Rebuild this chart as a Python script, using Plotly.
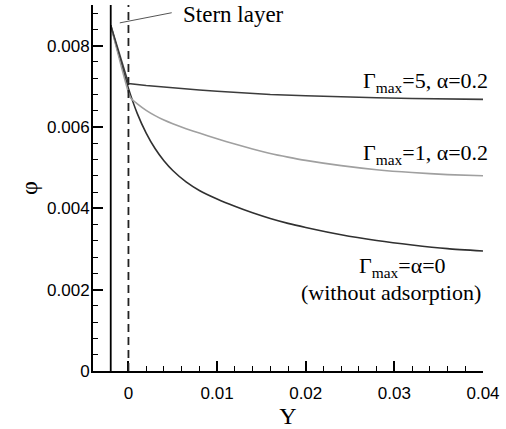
import plotly.graph_objects as go

# ---- data ----
Y_gamma5 = [-0.002, 0.0, 0.002, 0.004, 0.006, 0.008, 0.010, 0.013, 0.016, 0.020, 0.024, 0.028, 0.032, 0.036, 0.040]
phi_gamma5 = [0.0085, 0.00707, 0.00702, 0.00698, 0.00694, 0.00691, 0.00688, 0.00684, 0.00680, 0.00677, 0.00674, 0.00672, 0.00670, 0.00669, 0.00668]

Y_gamma1 = [-0.002, 0.0, 0.0003, 0.001, 0.002, 0.003, 0.004, 0.005, 0.0065, 0.008, 0.010, 0.012, 0.014, 0.016, 0.018, 0.020, 0.024, 0.028, 0.032, 0.036, 0.040]
phi_gamma1 = [0.0085, 0.00685, 0.00670, 0.00657, 0.00641, 0.00628, 0.00617, 0.00608, 0.00596, 0.00585, 0.00571, 0.00558, 0.00546, 0.00535, 0.00526, 0.00518, 0.00505, 0.00495, 0.00488, 0.00483, 0.00480]

Y_gamma0 = [-0.002, 0.0, 0.001, 0.002, 0.003, 0.004, 0.005, 0.0065, 0.008, 0.010, 0.012, 0.014, 0.016, 0.018, 0.020, 0.024, 0.028, 0.032, 0.036, 0.040]
phi_gamma0 = [0.0085, 0.00695, 0.00633, 0.00585, 0.00547, 0.00517, 0.00493, 0.00465, 0.00444, 0.00423, 0.00405, 0.00389, 0.00375, 0.00363, 0.00353, 0.00335, 0.00321, 0.00310, 0.00301, 0.00295]

x_tickvals = [0, 0.01, 0.02, 0.03, 0.04]
x_ticktext = ["0", "0.01", "0.02", "0.03", "0.04"]
y_tickvals = [0, 0.002, 0.004, 0.006, 0.008]
y_ticktext = ["0", "0.002", "0.004", "0.006", "0.008"]

stern_Y = -0.002
interface_Y = 0.0

fig = go.Figure()
fig.add_trace(go.Scatter(x=Y_gamma0, y=phi_gamma0, mode="lines", line=dict(color="#303030", width=1.6, shape="spline", smoothing=0.6)))
fig.add_trace(go.Scatter(x=Y_gamma1, y=phi_gamma1, mode="lines", line=dict(color="#a0a0a0", width=1.6, shape="spline", smoothing=0.6)))
fig.add_trace(go.Scatter(x=Y_gamma5, y=phi_gamma5, mode="lines", line=dict(color="#3c3c3c", width=1.6)))

# vertical lines
fig.add_shape(type="line", xref="x", yref="paper", x0=stern_Y, x1=stern_Y, y0=0, y1=1,
              line=dict(color="black", width=1.8))
fig.add_shape(type="line", xref="x", yref="paper", x0=interface_Y, x1=interface_Y, y0=0, y1=1,
              line=dict(color="#222", width=1.8, dash="8px,5px"))
# Stern layer pointer
fig.add_shape(type="line", xref="x", yref="y", x0=-0.00098, y0=0.00856, x1=0.00488, y1=0.00881,
              line=dict(color="#555", width=1))

serif = "Liberation Serif"
ann = [
    dict(x=0.00598, y=0.00876, text="Stern layer", xanchor="left", yanchor="middle", size=23, xshift=0),
    dict(x=0.04, y=0.00710, text="Γ<sub>max</sub>=5, α=0.2", xanchor="right", yanchor="middle", size=22, xshift=7),
    dict(x=0.04, y=0.00533, text="Γ<sub>max</sub>=1, α=0.2", xanchor="right", yanchor="middle", size=22, xshift=7),
    dict(x=0.0309, y=0.00255, text="Γ<sub>max</sub>=α=0", xanchor="center", yanchor="middle", size=22, xshift=0),
    dict(x=0.02965, y=0.00194, text="(without adsorption)", xanchor="center", yanchor="middle", size=22, xshift=0),
]
for a in ann:
    size = a.pop("size")
    fig.add_annotation(xref="x", yref="y", showarrow=False,
                       font=dict(family=serif, size=size, color="black"), **a)

axis_common = dict(
    showline=True, linecolor="black", linewidth=2, mirror=False,
    ticks="inside", ticklen=10, tickwidth=2, tickcolor="black",
    showgrid=False, zeroline=False,
    tickfont=dict(family="Liberation Sans", size=17, color="black"),
)

fig.update_xaxes(range=[-0.004, 0.04], tickmode="array", tickvals=x_tickvals, ticktext=x_ticktext,
                 minor=dict(ticks="inside", ticklen=5, tickwidth=1, tickcolor="black", dtick=0.002, tick0=0),
                 ticklabelstandoff=6,
                 title=dict(text="Y", font=dict(family=serif, size=24, color="black"), standoff=4),
                 **axis_common)
fig.update_yaxes(range=[0, 0.009], tickmode="array", tickvals=y_tickvals, ticktext=y_ticktext,
                 minor=dict(ticks="inside", ticklen=5, tickwidth=1, tickcolor="black", dtick=0.0004, tick0=0),
                 ticklabelstandoff=-2,
                 title=dict(text="φ", font=dict(family=serif, size=24, color="black"), standoff=3),
                 **axis_common)

fig.update_layout(
    width=506, height=429,
    margin=dict(l=93, r=23, t=5, b=53),
    paper_bgcolor="white", plot_bgcolor="white",
    showlegend=False,
)

fig.write_html("out.html")
